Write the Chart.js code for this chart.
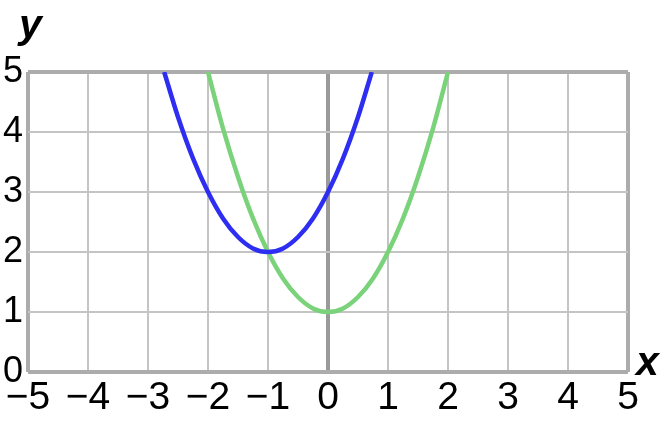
<!DOCTYPE html>
<html>
<head>
<meta charset="utf-8">
<script src="https://cdn.jsdelivr.net/npm/chart.js@4"></script>
<style>
  html, body { margin: 0; padding: 0; background: #fff; }
  #wrap { width: 667px; height: 421px; }
</style>
</head>
<body>
<div id="wrap"><canvas id="grafico" width="667" height="421"></canvas></div>
<script>
// valores
const xTicks = [-5, -4, -3, -2, -1, 0, 1, 2, 3, 4, 5];
const yTicks = [0, 1, 2, 3, 4, 5];

const blueX = [-2.73, -2.5, -2.25, -2, -1.75, -1.5, -1.25, -1, -0.75, -0.5, -0.25, 0, 0.25, 0.5, 0.73];
const blueY = [5, 4.25, 3.56, 3, 2.56, 2.25, 2.06, 2, 2.06, 2.25, 2.56, 3, 3.56, 4.25, 5];

const greenX = [-2, -1.75, -1.5, -1.25, -1, -0.75, -0.5, -0.25, 0, 0.25, 0.5, 0.75, 1, 1.25, 1.5, 1.75, 2];
const greenY = [5, 4.06, 3.25, 2.56, 2, 1.56, 1.25, 1.06, 1, 1.06, 1.25, 1.56, 2, 2.56, 3.25, 4.06, 5];

const toPoints = (xs, ys) => xs.map((x, i) => ({ x: x, y: ys[i] }));
const fmt = (v) => (v < 0 ? "\u2212" + Math.abs(v) : String(v));

// titulos dos eixos (x e y em italico)
const axisNames = {
  id: "axisNames",
  afterDraw(chart) {
    const c = chart.ctx;
    c.save();
    c.fillStyle = "#000";
    c.font = "italic bold 41px 'Liberation Sans', Arial, sans-serif";
    c.textBaseline = "alphabetic";
    c.textAlign = "left";
    c.fillText("y", 19, 38);
    c.fillText("x", 636, 375);
    c.restore();
  },
};

const ctx = document.getElementById("grafico");

new Chart(ctx, {
  type: "scatter",
  data: {
    datasets: [
      {
        data: toPoints(blueX, blueY),
        showLine: true,
        borderColor: "#2e2ef2",
        borderWidth: 4.5,
        pointRadius: 0,
        cubicInterpolationMode: "monotone",
      },
      {
        data: toPoints(greenX, greenY),
        showLine: true,
        borderColor: "#7ad37a",
        borderWidth: 4.5,
        pointRadius: 0,
        cubicInterpolationMode: "monotone",
      },
    ],
  },
  options: {
    responsive: false,
    animation: false,
    layout: { padding: { top: 72, right: 39, left: 0, bottom: 0 } },
    plugins: { legend: { display: false }, tooltip: { enabled: false } },
    scales: {
      x: {
        type: "linear",
        min: -5,
        max: 5,
        afterBuildTicks: (s) => { s.ticks = xTicks.map((v) => ({ value: v })); },
        afterFit: (s) => { s.height = 49; },
        border: { display: false },
        grid: {
          drawTicks: false,
          color: (c) => (c.tick && c.tick.value === 0 ? "#9a9a9a" : (c.tick && Math.abs(c.tick.value) === 5 ? "#acacac" : "#c4c4c4")),
          lineWidth: (c) => (c.tick && (c.tick.value === 0 || Math.abs(c.tick.value) === 5) ? 4 : 2),
        },
        ticks: {
          padding: 3,
          color: "#000",
          font: { family: "'Liberation Sans', Arial, sans-serif", size: 39 },
          callback: (v) => fmt(v),
          maxRotation: 0,
          autoSkip: false,
        },
      },
      y: {
        type: "linear",
        min: 0,
        max: 5,
        afterBuildTicks: (s) => { s.ticks = yTicks.map((v) => ({ value: v })); },
        afterFit: (s) => { s.width = 28; },
        border: { display: false },
        grid: {
          drawTicks: false,
          color: (c) => (c.tick && (c.tick.value === 0 || c.tick.value === 5) ? "#acacac" : "#c4c4c4"),
          lineWidth: (c) => (c.tick && (c.tick.value === 0 || c.tick.value === 5) ? 4 : 2),
        },
        ticks: {
          padding: 5,
          color: "#000",
          font: { family: "'Liberation Sans', Arial, sans-serif", size: 36 },
          callback: (v) => fmt(v),
          autoSkip: false,
        },
      },
    },
  },
  plugins: [axisNames],
});
</script>
</body>
</html>
